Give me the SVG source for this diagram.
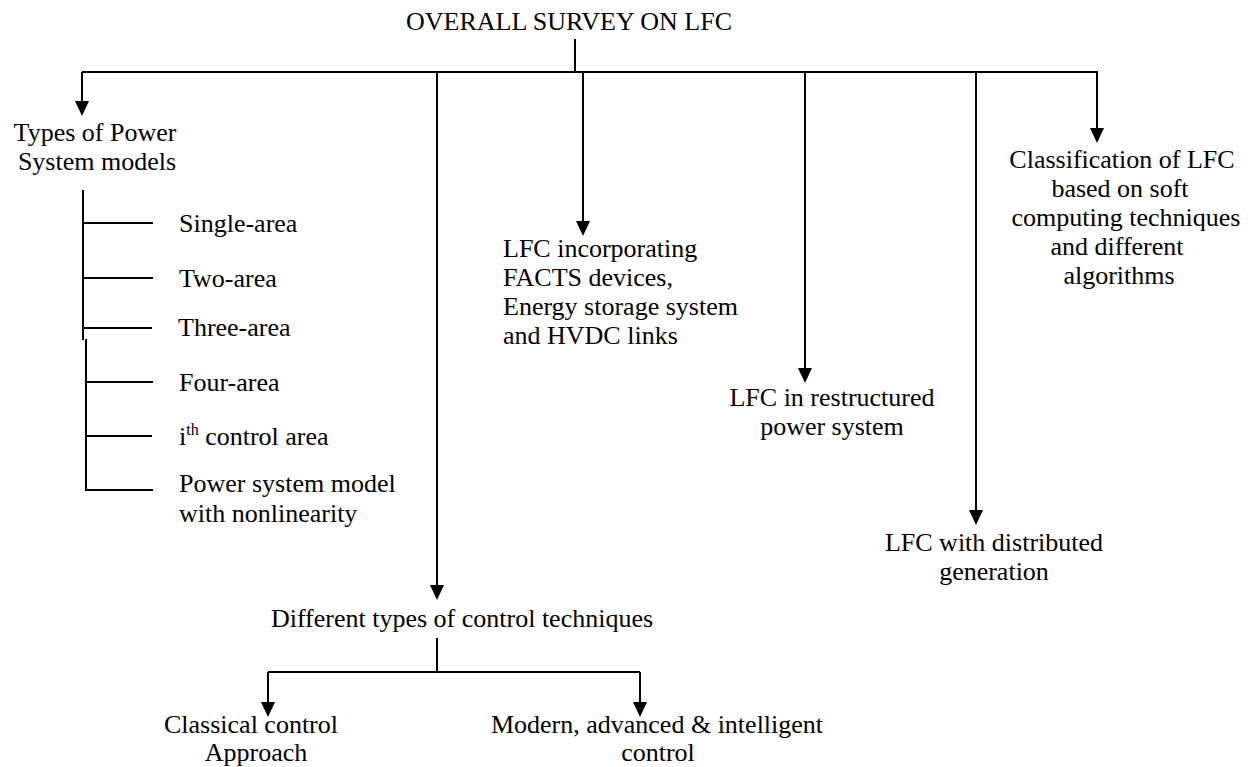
<svg xmlns="http://www.w3.org/2000/svg" width="1260" height="767" viewBox="0 0 1260 767">
<style>
text{font-family:"Liberation Serif","Times New Roman",serif;font-size:26px;fill:#000}
.c{text-anchor:middle}
.ln{stroke:#000;stroke-width:2;fill:none}
.ah{fill:#000}
</style>
<rect width="1260" height="767" fill="#fff"/>
<g id="connectors">
<path class="ln" d="M575,39 V72"/>
<path class="ln" d="M82,72 H1098"/>
<path class="ln" d="M82,72 V102"/>
<path class="ah" d="M75,101 L89,101 L82,116 Z"/>
<path class="ln" d="M437,72 V586"/>
<path class="ah" d="M430,585 L444,585 L437,600 Z"/>
<path class="ln" d="M583,72 V222"/>
<path class="ah" d="M576,221 L590,221 L583,236 Z"/>
<path class="ln" d="M805,72 V369"/>
<path class="ah" d="M798,368 L812,368 L805,383 Z"/>
<path class="ln" d="M976,72 V511"/>
<path class="ah" d="M969,510 L983,510 L976,525 Z"/>
<path class="ln" d="M1097,72 V129"/>
<path class="ah" d="M1090,128 L1104,128 L1097,143 Z"/>
<path class="ln" d="M83,190 V340"/>
<path class="ln" d="M86,339 V491"/>
<path class="ln" d="M83,223 H153 M83,278 H153 M83,328 H152 M86,382 H153 M86,436 H152 M85,490 H153"/>
<path class="ln" d="M437,638 V672 M268,672 H640 M268,672 V703 M640,672 V703"/>
<path class="ah" d="M261,702 L275,702 L268,717 Z"/>
<path class="ah" d="M633,702 L647,702 L640,717 Z"/>
</g>
<g id="root"><text class="c" x="569" y="30">OVERALL SURVEY ON LFC</text></g>
<g id="types"><text class="c" x="95" y="141">Types of Power</text><text class="c" x="97" y="170">System models</text></g>
<g id="single"><text x="179" y="232">Single-area</text></g>
<g id="two"><text x="179" y="287">Two-area</text></g>
<g id="three"><text x="178" y="336">Three-area</text></g>
<g id="four"><text x="179" y="391">Four-area</text></g>
<g id="ith"><text x="179" y="445">i<tspan font-size="16" dy="-10">th</tspan><tspan dy="10"> control area</tspan></text></g>
<g id="nonlin"><text x="179" y="492">Power system model</text><text x="179" y="522">with nonlinearity</text></g>
<g id="facts"><text x="503" y="257">LFC incorporating</text><text x="503" y="286">FACTS devices,</text><text x="503" y="315">Energy storage system</text><text x="503" y="344">and HVDC links</text></g>
<g id="restructured"><text class="c" x="832" y="406">LFC in restructured</text><text class="c" x="832" y="435">power system</text></g>
<g id="distributed"><text class="c" x="994" y="551">LFC with distributed</text><text class="c" x="994" y="580">generation</text></g>
<g id="soft"><text class="c" x="1122" y="168">Classification of LFC</text><text class="c" x="1120" y="197">based on soft</text><text class="c" x="1126" y="226">computing techniques</text><text class="c" x="1117" y="255">and different</text><text class="c" x="1119" y="284">algorithms</text></g>
<g id="control"><text class="c" x="462" y="627">Different types of control techniques</text></g>
<g id="classical"><text class="c" x="251" y="733">Classical control</text><text class="c" x="256" y="761">Approach</text></g>
<g id="modern"><text class="c" x="657" y="733">Modern, advanced &amp; intelligent</text><text class="c" x="658" y="761">control</text></g>
</svg>
